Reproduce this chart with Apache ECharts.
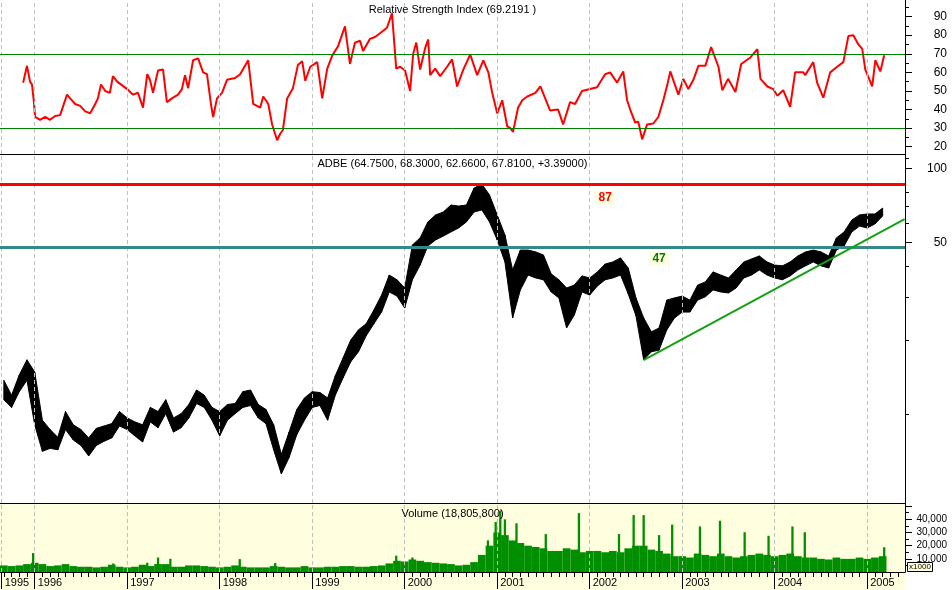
<!DOCTYPE html>
<html>
<head>
<meta charset="utf-8">
<title>ADBE</title>
<script src="https://cdn.jsdelivr.net/npm/echarts@6/dist/echarts.min.js"></script>
<style>
  html, body { margin: 0; padding: 0; background: #fff; }
  #main { width: 952px; height: 590px; }
</style>
</head>
<body>
<div id="main"></div>
<script>
// x values are months counted from Jan 1995 (12 = Jan 1996, 120 = Jan 2005)
var firstMonth = 8;

// price band, one reading per month (high / low of the bars around that date)
var priceHigh = [13.8, 12.0, 14.5, 16.7, 14.9, 9.5, 8.7, 8.1, 10.3, 9.1,
  8.7, 8.05, 8.8, 9.0, 9.2, 10.3, 9.7, 9.35, 9.1, 10.7,
  10.3, 11.5, 9.7, 10.1, 11.0, 12.6, 12.0, 10.7, 10.3, 11.0,
  11.1, 12.4, 12.6, 11.0, 10.5, 9.1, 6.9, 8.5, 10.5, 11.7,
  12.4, 12.3, 11.7, 14.4, 17.0, 20.1, 22.1, 23.4, 26.6, 30.6,
  36.9, 35.3, 32.7, 48.9, 52.2, 60.6, 64.7, 66.5, 71.0, 70.3,
  71.0, 83.2, 86.4, 78.0, 64.7, 53.7, 38.7, 46.6, 46.6, 45.8,
  44.5, 37.3, 35.3, 32.7, 33.6, 36.6, 35.9, 38.0, 40.9, 41.7,
  43.3, 39.4, 29.8, 24.7, 21.7, 22.5, 29.2, 29.8, 30.3, 29.2,
  33.6, 34.6, 38.0, 36.9, 35.9, 38.7, 41.7, 42.9, 44.1, 41.7,
  40.5, 40.2, 41.7, 44.1, 45.8, 46.6, 45.8, 44.1, 52.2, 55.2,
  61.7, 64.7, 65.3, 65.3, 69.0];
var priceLow = [11.5, 10.7, 12.4, 13.8, 9.1, 7.1, 7.3, 7.2, 8.7, 7.9,
  7.5, 6.8, 7.5, 7.8, 8.05, 9.0, 8.7, 8.2, 7.75, 9.35,
  8.85, 10.1, 8.5, 8.85, 9.7, 11.1, 10.7, 9.5, 8.2, 9.5,
  10.1, 10.7, 10.9, 9.7, 9.2, 7.2, 5.75, 6.7, 8.3, 9.5,
  10.7, 10.9, 9.5, 12.0, 14.1, 16.4, 18.0, 20.9, 23.4, 26.1,
  31.5, 30.3, 27.1, 35.3, 40.5, 48.4, 51.2, 53.1, 55.2, 57.3,
  60.6, 66.5, 67.8, 60.6, 51.2, 41.7, 24.7, 32.1, 36.9, 35.9,
  35.3, 31.5, 29.8, 22.5, 25.4, 31.5, 30.6, 33.3, 35.3, 35.9,
  36.9, 30.9, 25.2, 16.7, 18.0, 18.3, 22.1, 24.7, 26.1, 26.1,
  29.2, 30.1, 32.1, 31.5, 31.2, 32.7, 35.9, 36.9, 38.7, 36.9,
  35.9, 35.3, 36.6, 38.7, 40.2, 41.7, 40.2, 39.4, 46.6, 48.4,
  55.2, 58.3, 57.3, 59.5, 64.1];

var rsiMonth = [10.5, 11.0, 11.4, 11.65, 11.9, 12.05, 12.7, 13.35, 14.0, 14.65,
  15.3, 15.7, 16.2, 16.6, 17.25, 17.9, 18.55, 19.2, 19.85, 20.2,
  20.6, 21.15, 21.75, 22.15, 22.7, 23.35, 24.0, 24.75, 25.4, 26.05,
  26.6, 26.95, 27.35, 28.0, 28.65, 29.15, 29.8, 30.6, 31.1, 31.5,
  31.9, 32.55, 33.2, 33.85, 34.35, 34.9, 35.15, 35.65, 36.3, 36.95,
  38.0, 38.65, 39.7, 40.35, 41.25, 41.65, 42.3, 42.8, 43.45, 43.85,
  44.2, 44.75, 45.5, 46.15, 46.7, 47.1, 47.75, 48.65, 49.3, 49.95,
  50.6, 51.35, 52.25, 52.9, 53.55, 54.2, 54.6, 55.5, 56.15, 56.8,
  57.7, 58.35, 58.9, 59.4, 60.05, 60.7, 61.1, 61.5, 62.0, 62.65,
  63.05, 63.3, 63.95, 64.6, 65.5, 66.15, 66.8, 67.6, 68.5, 69.4,
  70.2, 70.85, 71.35, 72.0, 72.65, 73.3, 73.7, 74.05, 74.7, 75.25,
  75.9, 76.95, 77.6, 78.85, 79.9, 80.55, 81.45, 82.1, 83.0, 84.05,
  84.95, 86.0, 86.65, 87.55, 88.35, 88.85, 89.25, 89.9, 90.3, 90.8,
  91.45, 92.25, 92.9, 93.55, 94.05, 94.45, 95.5, 96.15, 96.8, 97.45,
  98.1, 99.0, 99.75, 100.7, 101.2, 101.95, 102.9, 103.65, 104.85, 105.75,
  106.15, 107.05, 107.8, 108.35, 109.1, 110.0, 110.65, 111.7, 111.95, 113.0,
  113.5, 114.3, 115.2, 116.1, 116.9, 117.55, 118.2, 118.85, 119.35, 119.75,
  120.65, 121.05, 121.7, 122.2];
var rsiValue = [54.4, 63.5, 55, 53.4, 44, 36, 34.5, 36, 34.5, 36.5,
  37, 42, 48, 46, 43, 42, 39, 38, 43, 46,
  53.5, 50, 49, 58, 55, 53, 51, 48, 49, 41,
  59, 56, 49, 61, 61.5, 44, 46, 48, 51, 58.5,
  51.5, 66.5, 67.5, 60, 59, 42, 36, 46, 49, 56,
  57, 59, 66.5, 43, 41, 47, 43, 32, 23.5, 27,
  29, 46, 51.5, 64, 66, 55.5, 63, 65.5, 46, 62,
  69, 74, 84.7, 64.5, 76, 77, 71.5, 78, 79, 81,
  84, 91.8, 62, 63, 61, 50, 70, 76, 61.5, 73,
  77.7, 58.5, 62, 58, 63, 67, 52.4, 61.5, 69.6, 58.5,
  66.5, 60, 49, 38, 45, 31, 30, 28, 41, 45,
  47, 49, 52.4, 39.5, 40, 32, 44, 43, 50, 51,
  52, 59, 60, 54.5, 60.5, 45, 40, 33, 33.5, 24,
  32, 32.5, 36, 45, 53, 60.5, 48, 56.5, 51, 56,
  63.5, 63.5, 73.6, 63, 50.4, 56.5, 49.4, 64.5, 68, 72.5,
  56.5, 52.4, 51, 47.4, 50.4, 41.5, 60, 60, 58.5, 65.5,
  54.5, 46.4, 60, 63, 65.5, 79.5, 80, 75, 72.6, 61.5,
  52.4, 66.5, 60.5, 69.2];

// volume in thousands: usual level per month, plus the tall single days
var volume = [5000, 4500, 5000, 6000, 7000, 6000, 4500, 5000, 6000, 4500,
  4000, 4000, 3500, 4000, 5500, 4000, 3500, 4000, 5500, 4500,
  6000, 6000, 4000, 4000, 5000, 5000, 4500, 4000, 3500, 4000,
  5000, 4000, 3500, 3500, 3500, 4500, 4000, 3500, 3500, 4500,
  3500, 3500, 4000, 4000, 4500, 4500, 4000, 4000, 4500, 5000,
  6500, 8500, 8000, 9500, 8500, 7500, 7000, 6500, 6000, 5000,
  5500, 7500, 13000, 20000, 30000, 28000, 24000, 22000, 20000, 19000,
  18000, 16000, 16000, 18000, 17000, 15000, 16000, 16000, 15000, 16000,
  15000, 18000, 20000, 20000, 17000, 16000, 14000, 12000, 12000, 11000,
  14000, 13000, 12000, 14000, 12000, 11000, 12000, 13000, 14000, 13000,
  12000, 13000, 14000, 12000, 11000, 11000, 10000, 9500, 11000, 10000,
  10000, 11000, 10000, 11000, 12000];
var spikeMonth = [11.8, 22.2, 26.6, 28.0, 29.6, 38.6, 43.2, 58.9, 61.0, 70.8,
  71.8, 72.4, 73.0, 74.5, 78.3, 82.6, 87.8, 89.7, 91.0, 93.0,
  94.7, 98.3, 100.9, 104.1, 107.2, 110.3, 111.9, 122.2];
var spikeValue = [14400, 6500, 7000, 11000, 10000, 9800, 6800, 12400, 11000, 24000,
  38000, 46600, 40000, 37000, 28800, 44700, 28800, 43200, 43200, 28000,
  36000, 34600, 38900, 30200, 27500, 34600, 30200, 18800];

// axis marks
var yearTicks = [7.72, 12, 24, 36, 48, 60, 72, 84, 96, 108, 120];
var yearLabels = ['1995', '1996', '1997', '1998', '1999', '2000', '2001', '2002', '2003', '2004', '2005'];
var rsiTicks = [20, 30, 40, 50, 60, 70, 80, 90];
var rsiMinorTicks = [25, 35, 45, 55, 65, 75, 85, 95];
var priceTicks = [50, 100];
var priceMinorTicks = [10, 20, 30, 40, 60, 70, 80, 110];
var volTicks = [10000, 20000, 30000, 40000];
var volMinorTicks = [5000, 15000, 25000, 35000, 45000, 50000];

// annotation levels
var rsiBands = [70, 30];
var resistance = 86, support = 47.8;
var trendStart = [90.98, 16.65], trendEnd = [124.85, 62.2];

var rsiTitle = 'Relative Strength Index (69.2191 )';
var priceTitle = 'ADBE (64.7500, 68.3000, 62.6600, 67.8100, +3.39000)';
var volTitle = 'Volume (18,805,800)';

var FONT = '"Liberation Sans", Arial, sans-serif';
var GREEN = '#008f00';
var xMin = 7.5, xMax = 124.9;

var monthTicks = [];
for (var m = 8; m <= 124; m++) monthTicks.push(m);

var months = priceHigh.map(function (_, i) { return firstMonth + i; });
var priceData = months.map(function (m, i) { return [m, priceHigh[i], priceLow[i]]; });
var rsiData = rsiMonth.map(function (m, i) { return [m, rsiValue[i]]; });
var volData = months.map(function (m, i) { return [m, volume[i]]; });
var spikeData = spikeMonth.map(function (m, i) { return [m, spikeValue[i]]; });

var dashed = { color: '#c0c0c0', type: [4, 3], width: 1 };
function yearLines() {
  return yearTicks.map(function (v) { return { xAxis: v, lineStyle: dashed }; });
}

function hiddenX(grid, showLine) {
  return {
    type: 'value', gridIndex: grid, position: 'bottom', min: xMin, max: xMax,
    axisLine: { show: showLine, onZero: false, lineStyle: { color: '#000', width: 1 } },
    axisTick: { show: false }, axisLabel: { show: false }, splitLine: { show: false }
  };
}

function tickAxis(grid, type, min, max, ticks, len, labels, fontSize, fmt, showLine) {
  return {
    type: type, gridIndex: grid, position: 'right', offset: 0, min: min, max: max,
    axisLine: { show: showLine, onZero: false, lineStyle: { color: '#000', width: 1 } },
    axisTick: { show: !!ticks, length: len, customValues: ticks || [], lineStyle: { color: '#000' } },
    axisLabel: labels ? {
      show: true, customValues: labels, align: 'right', margin: 42,
      color: '#000', fontSize: fontSize, fontFamily: FONT, formatter: fmt
    } : { show: false },
    splitLine: { show: false }
  };
}

var lg = function (v) { return Math.log10(v); };
var pLo = 4.38, pHi = 114.4;

function bandItem(params, api) {
  var i = params.dataIndex;
  if (i >= months.length - 1) return null;
  var a = api.coord([months[i], priceHigh[i]]);
  var b = api.coord([months[i + 1], priceHigh[i + 1]]);
  var c = api.coord([months[i + 1], priceLow[i + 1]]);
  var d = api.coord([months[i], priceLow[i]]);
  return {
    type: 'polygon', shape: { points: [a, b, c, d] },
    style: { fill: '#000', stroke: '#000', lineWidth: 1 }
  };
}

function volItem(w) {
  return function (params, api) {
    var x = api.value(0), v = api.value(1);
    var top = api.coord([x - w / 2, v]);
    var bot = api.coord([x + w / 2, 0]);
    return {
      type: 'rect',
      shape: { x: top[0], y: top[1], width: bot[0] - top[0], height: bot[1] - top[1] },
      style: { fill: GREEN }
    };
  };
}

var chart = echarts.init(document.getElementById('main'));
chart.setOption({
  animation: false,
  backgroundColor: '#fff',
  grid: [
    { left: 0, top: 0, width: 905, height: 154 },
    { left: 0, top: 154, width: 905, height: 349 },
    { left: 0, top: 503, width: 905, height: 69, show: true, backgroundColor: '#ffffe0', borderWidth: 0 }
  ],
  xAxis: [
    hiddenX(0, true),
    hiddenX(1, true),
    {
      type: 'value', gridIndex: 2, position: 'bottom', offset: 0, min: xMin, max: xMax,
      axisLine: { show: true, onZero: false, lineStyle: { color: '#000', width: 1 } },
      axisTick: { show: true, length: 5, customValues: monthTicks, lineStyle: { color: '#000' } },
      axisLabel: { show: false }, splitLine: { show: false }
    },
    {
      type: 'value', gridIndex: 2, position: 'bottom', offset: 0, min: xMin, max: xMax,
      axisLine: { show: false, onZero: false },
      axisTick: { show: true, length: 17, customValues: yearTicks, lineStyle: { color: '#000' } },
      axisLabel: {
        show: true, customValues: yearTicks, align: 'left', margin: 5, padding: [0, 0, 0, 3],
        color: '#000', fontSize: 11, fontFamily: FONT,
        formatter: function (v) { return yearLabels[v < 12 ? 0 : Math.round(v / 12)]; }
      },
      splitLine: { show: false }
    }
  ],
  yAxis: [
    tickAxis(0, 'value', 16.1, 98.9, rsiTicks, 7, rsiTicks, 12, null, true),
    tickAxis(0, 'value', 16.1, 98.9, rsiMinorTicks, 4, null, 12, null, false),
    tickAxis(1, 'log', pLo, pHi, null, 0, null, 12, null, true),
    tickAxis(1, 'value', lg(pLo), lg(pHi), priceTicks.map(lg), 7, priceTicks.map(lg), 12,
      function (v) { return String(Math.round(Math.pow(10, v))); }, false),
    tickAxis(1, 'value', lg(pLo), lg(pHi), priceMinorTicks.map(lg), 4, null, 12, null, false),
    tickAxis(2, 'value', 0, 52400, volTicks.concat([50000]), 7, volTicks, 10, null, true),
    tickAxis(2, 'value', 0, 52400, volMinorTicks, 4, null, 10, null, false)
  ],
  series: [
    {
      type: 'line', xAxisIndex: 0, yAxisIndex: 0, data: rsiData,
      showSymbol: false, symbol: 'none', lineStyle: { color: '#ff0000', width: 2 },
      z: 3,
      markLine: {
        silent: true, symbol: ['none', 'none'], label: { show: false },
        data: yearLines().concat(rsiBands.map(function (v) {
          return { yAxis: v, lineStyle: { color: '#008000', type: 'solid', width: 1 } };
        }))
      }
    },
    {
      type: 'custom', xAxisIndex: 1, yAxisIndex: 2, data: priceData,
      encode: { x: 0, y: [1, 2] }, renderItem: bandItem, z: 3,
      markLine: {
        silent: true, symbol: ['none', 'none'], label: { show: false },
        data: yearLines().concat([
          { yAxis: resistance, lineStyle: { color: '#ff0000', type: 'solid', width: 3 } },
          { yAxis: support, lineStyle: { color: '#38888a', type: 'solid', width: 3 } },
          [{ coord: trendStart, lineStyle: { color: '#14a014', type: 'solid', width: 2 } }, { coord: trendEnd }]
        ])
      },
      markPoint: {
        silent: true, symbol: 'rect', symbolSize: 0,
        data: [
          { coord: [86.0, 76.1], label: { formatter: '87', color: '#ff0000' } },
          { coord: [93.0, 43.1], label: { formatter: '47', color: '#008000' } }
        ],
        label: {
          show: true, position: 'inside', fontWeight: 'bold', fontSize: 12, fontFamily: FONT,
          backgroundColor: '#ffffe0', padding: [1, 3]
        }
      }
    },
    {
      type: 'custom', xAxisIndex: 2, yAxisIndex: 5, data: volData,
      encode: { x: 0, y: 1 }, renderItem: volItem(1), z: 3,
      markLine: {
        silent: true, symbol: ['none', 'none'], label: { show: false },
        data: yearLines()
      }
    },
    {
      type: 'custom', xAxisIndex: 2, yAxisIndex: 5, data: spikeData,
      encode: { x: 0, y: 1 }, renderItem: volItem(0.3), z: 3
    }
  ],
  graphic: [
    { type: 'rect', z: -10, silent: true, shape: { x: 0, y: 572, width: 905, height: 18 }, style: { fill: '#ffffe0' } },
    { type: 'text', z: 100, x: 452.5, y: 10, style: { text: rsiTitle, font: '11px ' + FONT, fill: '#000', align: 'center', verticalAlign: 'middle', textAlign: 'center', textVerticalAlign: 'middle' } },
    { type: 'text', z: 100, x: 452.5, y: 164, style: { text: priceTitle, font: '11px ' + FONT, fill: '#000', align: 'center', verticalAlign: 'middle', textAlign: 'center', textVerticalAlign: 'middle' } },
    { type: 'text', z: 100, x: 452.5, y: 514, style: { text: volTitle, font: '11px ' + FONT, fill: '#000', align: 'center', verticalAlign: 'middle', textAlign: 'center', textVerticalAlign: 'middle' } },
    { type: 'rect', z: 100, shape: { x: 907.5, y: 562.5, width: 25, height: 9 }, style: { fill: '#ffffe0', stroke: '#000', lineWidth: 1 } },
    { type: 'text', z: 101, x: 920, y: 567, style: { text: 'x1000', font: '8px ' + FONT, fill: '#000', align: 'center', verticalAlign: 'middle', textAlign: 'center', textVerticalAlign: 'middle' } }
  ]
});
</script>
</body>
</html>
